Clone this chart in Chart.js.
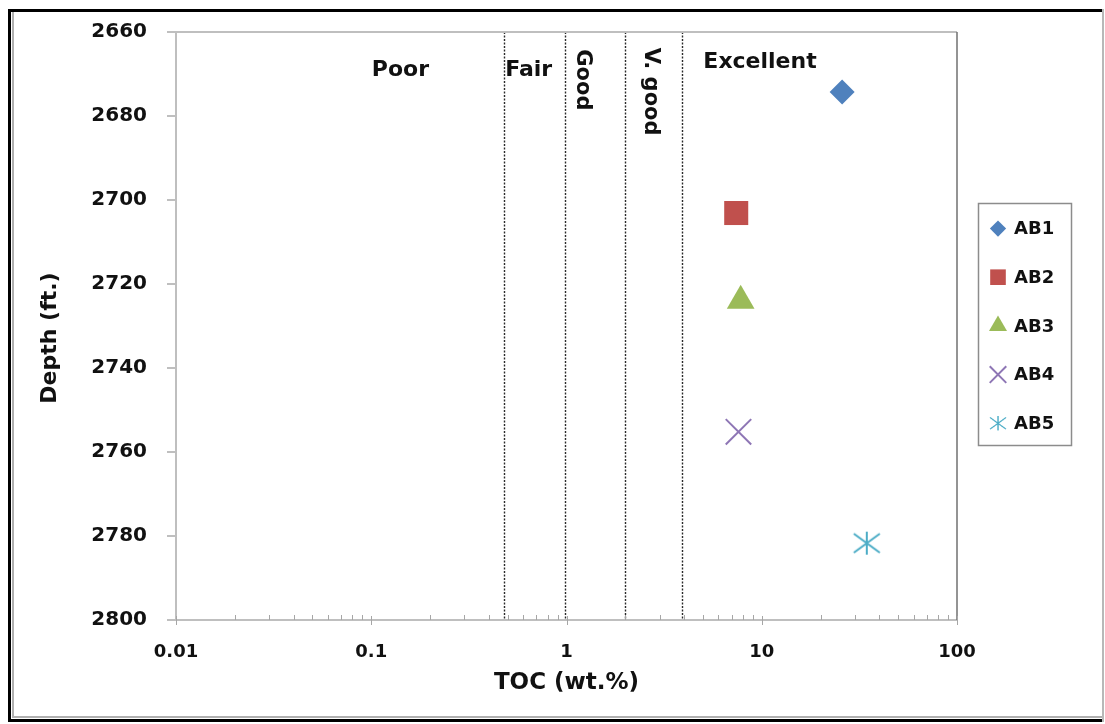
<!DOCTYPE html>
<html>
  <head>
    <title>TOC vs Depth</title>
    <style>
      body {
        margin: 0;
        background: #fff;
      }

      .chart-container {
        position: relative;
        width: 1105px;
        height: 724px;
      }
    </style>
  </head>
  <body>
    <div class="chart-container">
      <canvas id="toc-chart" width="1105" height="724"></canvas>
    </div>

    <script src="https://cdn.jsdelivr.net/npm/chart.js"></script>
    <script>
      // Data
      var samples = ["AB1", "AB2", "AB3", "AB4", "AB5"]
      var tocValues = [25.8, 7.4, 7.8, 7.6, 34.5]
      var depthValues = [2674.3, 2703.1, 2724, 2755.2, 2781.7]
      var xTicks = [0.01, 0.1, 1, 10, 100]
      var yTicks = [2660, 2680, 2700, 2720, 2740, 2760, 2780, 2800]
      var zoneBounds = [0.48, 0.98, 2, 3.9]
      var zoneNames = ["Poor", "Fair", "Good", "V. good", "Excellent"]

      // Styles
      var colors = ["#4f81bd", "#c0504d", "#9bbb59", "#8e76b5", "#4bacc6"]
      var FONT = "'DejaVu Sans', Verdana, sans-serif"

      // asterisk marker (vertical bar + X), drawn once on a small canvas
      function makeAsterisk(w, h, color) {
        var c = document.createElement("canvas")
        c.width = w
        c.height = h
        var g = c.getContext("2d")
        g.strokeStyle = color
        g.lineWidth = 2
        g.beginPath()
        g.moveTo(w / 2, 1)
        g.lineTo(w / 2, h - 1)
        g.moveTo(2, 3)
        g.lineTo(w - 2, h - 3)
        g.moveTo(w - 2, 3)
        g.lineTo(2, h - 3)
        g.stroke()
        return c
      }

      var pointStyles = ["rectRot", "rect", "triangle", "crossRot", makeAsterisk(30, 25, colors[4])]
      var pointRadii = [12.5, 17, 16, 18, 15]
      var borderWidths = [0, 0, 0, 2, 0]

      // label anchors in data units (TOC, depth) and rotation
      var zoneLabelAt = [
        { x: 0.141, y: 2669, rot: 0 },
        { x: 0.64, y: 2669, rot: 0 },
        { x: 1.2, y: 2671.4, rot: Math.PI / 2 },
        { x: 2.68, y: 2674.2, rot: Math.PI / 2 },
        { x: 9.8, y: 2667.1, rot: 0 },
      ]

      var zonePlugin = {
        id: "zones",
        beforeDatasetsDraw: function (chart) {
          var ctx = chart.ctx
          var area = chart.chartArea
          var xs = chart.scales.x
          var ys = chart.scales.y
          ctx.save()

          // dotted zone boundaries
          ctx.strokeStyle = "#2a2a2a"
          ctx.lineWidth = 1.4
          ctx.setLineDash([2, 1.5])
          zoneBounds.forEach(function (v) {
            var px = Math.round(xs.getPixelForValue(v)) + 0.5
            ctx.beginPath()
            ctx.moveTo(px, area.top)
            ctx.lineTo(px, area.bottom)
            ctx.stroke()
          })
          ctx.setLineDash([])

          // top and right edges of the plot
          ctx.strokeStyle = "#bfbfbf"
          ctx.lineWidth = 2
          ctx.beginPath()
          ctx.moveTo(area.left, area.top)
          ctx.lineTo(area.right, area.top)
          ctx.stroke()
          ctx.strokeStyle = "#707070"
          ctx.lineWidth = 1.5
          ctx.beginPath()
          ctx.moveTo(area.right, area.top)
          ctx.lineTo(area.right, area.bottom)
          ctx.stroke()

          // x tick marks: majors cross the axis, minors point inward
          ctx.strokeStyle = "#a6a6a6"
          ctx.lineWidth = 1
          xTicks.forEach(function (v, i) {
            var px = Math.round(xs.getPixelForValue(v)) + 0.5
            ctx.beginPath()
            ctx.moveTo(px, area.bottom - 4)
            ctx.lineTo(px, area.bottom + 5)
            ctx.stroke()
            if (i < xTicks.length - 1) {
              for (var d = 2; d <= 9; d++) {
                var mx = Math.round(xs.getPixelForValue(v * d)) + 0.5
                ctx.beginPath()
                ctx.moveTo(mx, area.bottom - 5)
                ctx.lineTo(mx, area.bottom)
                ctx.stroke()
              }
            }
          })

          // zone names
          ctx.fillStyle = "#111"
          ctx.textAlign = "center"
          ctx.textBaseline = "middle"
          zoneNames.forEach(function (name, i) {
            var at = zoneLabelAt[i]
            ctx.save()
            ctx.translate(xs.getPixelForValue(at.x), ys.getPixelForValue(at.y))
            ctx.rotate(at.rot)
            ctx.font = "bold " + (at.rot ? 21 : 22) + "px " + FONT
            ctx.fillText(name, 0, 0)
            ctx.restore()
          })
          ctx.restore()
        },
      }

      var legendPlugin = {
        id: "sampleLegend",
        afterDraw: function (chart) {
          var ctx = chart.ctx
          ctx.save()
          ctx.strokeStyle = "#8c8c8c"
          ctx.lineWidth = 1.5
          ctx.strokeRect(978.5, 203.5, 93, 242)
          chart.data.datasets.forEach(function (ds, i) {
            var x = 998
            var y = 228.5 + i * 48.7
            if (ds.pointStyle instanceof HTMLCanvasElement) {
              var w = ds.pointStyle.width * 0.62
              var h = ds.pointStyle.height * 0.62
              ctx.drawImage(ds.pointStyle, x - w / 2, y - h / 2, w, h)
            } else {
              ctx.fillStyle = ds.pointBackgroundColor
              ctx.strokeStyle = ds.pointBorderColor
              ctx.lineWidth = ds.pointBorderWidth
              Chart.helpers.drawPoint(
                ctx,
                {
                  pointStyle: ds.pointStyle,
                  radius: ds.pointRadius * 0.65,
                  borderWidth: ds.pointBorderWidth,
                  rotation: 0,
                },
                x,
                y
              )
            }
            ctx.fillStyle = "#111"
            ctx.font = "bold 18px " + FONT
            ctx.textAlign = "left"
            ctx.textBaseline = "middle"
            ctx.fillText(ds.label, 1014, y + 1)
          })
          ctx.restore()
        },
      }

      // outer frame and the depth axis title (placed a little below the axis middle)
      var framePlugin = {
        id: "frame",
        afterDraw: function (chart) {
          var ctx = chart.ctx
          ctx.save()
          ctx.fillStyle = "#111"
          ctx.font = "bold 22px " + FONT
          ctx.textAlign = "center"
          ctx.textBaseline = "middle"
          ctx.translate(50, 338)
          ctx.rotate(-Math.PI / 2)
          ctx.fillText("Depth (ft.)", 0, 0)
          ctx.restore()

          ctx.save()
          ctx.strokeStyle = "#b0b0b0"
          ctx.lineWidth = 2
          ctx.beginPath()
          ctx.moveTo(13, 12)
          ctx.lineTo(13, 717)
          ctx.lineTo(1102, 717)
          ctx.stroke()
          ctx.strokeStyle = "#000"
          ctx.lineWidth = 3
          ctx.beginPath()
          ctx.moveTo(1102, 10.5)
          ctx.lineTo(9.5, 10.5)
          ctx.lineTo(9.5, 720.5)
          ctx.lineTo(1102, 720.5)
          ctx.stroke()
          ctx.strokeStyle = "#a0a0a0"
          ctx.lineWidth = 1.5
          ctx.beginPath()
          ctx.moveTo(1103, 9)
          ctx.lineTo(1103, 722)
          ctx.stroke()
          ctx.restore()
        },
      }

      // Prepare datasets
      var datasets = samples.map(function (name, i) {
        return {
          label: name,
          data: [{ x: tocValues[i], y: depthValues[i] }],
          pointStyle: pointStyles[i],
          pointRadius: pointRadii[i],
          pointHoverRadius: pointRadii[i],
          pointBackgroundColor: colors[i],
          pointBorderColor: colors[i],
          pointBorderWidth: borderWidths[i],
          showLine: false,
        }
      })

      var config = {
        type: "scatter",
        data: { datasets: datasets },
        options: {
          responsive: false,
          animation: false,
          layout: { padding: { left: 0, top: 32, right: 148, bottom: 0 } },
          plugins: {
            legend: { display: false },
            tooltip: { enabled: false },
          },
          scales: {
            x: {
              type: "logarithmic",
              min: 0.01,
              max: 100,
              afterBuildTicks: function (scale) {
                scale.ticks = xTicks.map(function (v) {
                  return { value: v, major: true }
                })
              },
              afterFit: function (scale) {
                scale.height = 104
              },
              grid: { display: false, drawTicks: false },
              border: { color: "#bfbfbf", width: 2 },
              ticks: {
                padding: 22,
                color: "#111",
                font: { family: FONT, size: 18, weight: "bold" },
                callback: function (v) {
                  return String(v)
                },
              },
              title: {
                display: true,
                text: "TOC (wt.%)",
                color: "#111",
                font: { family: FONT, size: 23, weight: "bold" },
                padding: { top: 0, bottom: 27 },
              },
            },
            y: {
              type: "linear",
              reverse: true,
              min: 2660,
              max: 2800,
              afterBuildTicks: function (scale) {
                scale.ticks = yTicks.map(function (v) {
                  return { value: v }
                })
              },
              afterFit: function (scale) {
                scale.width = 176
              },
              grid: {
                drawOnChartArea: false,
                drawTicks: true,
                tickLength: 9,
                color: "#bfbfbf",
                lineWidth: 2,
              },
              border: { color: "#bfbfbf", width: 2 },
              ticks: {
                padding: 20,
                color: "#111",
                font: { family: FONT, size: 20, weight: "bold" },
                callback: function (v) {
                  return String(v)
                },
              },
              title: { display: false },
            },
          },
        },
        plugins: [zonePlugin, legendPlugin, framePlugin],
      }

      // Create chart
      var ctx = document.getElementById("toc-chart").getContext("2d")
      new Chart(ctx, config)
    </script>
  </body>
</html>
